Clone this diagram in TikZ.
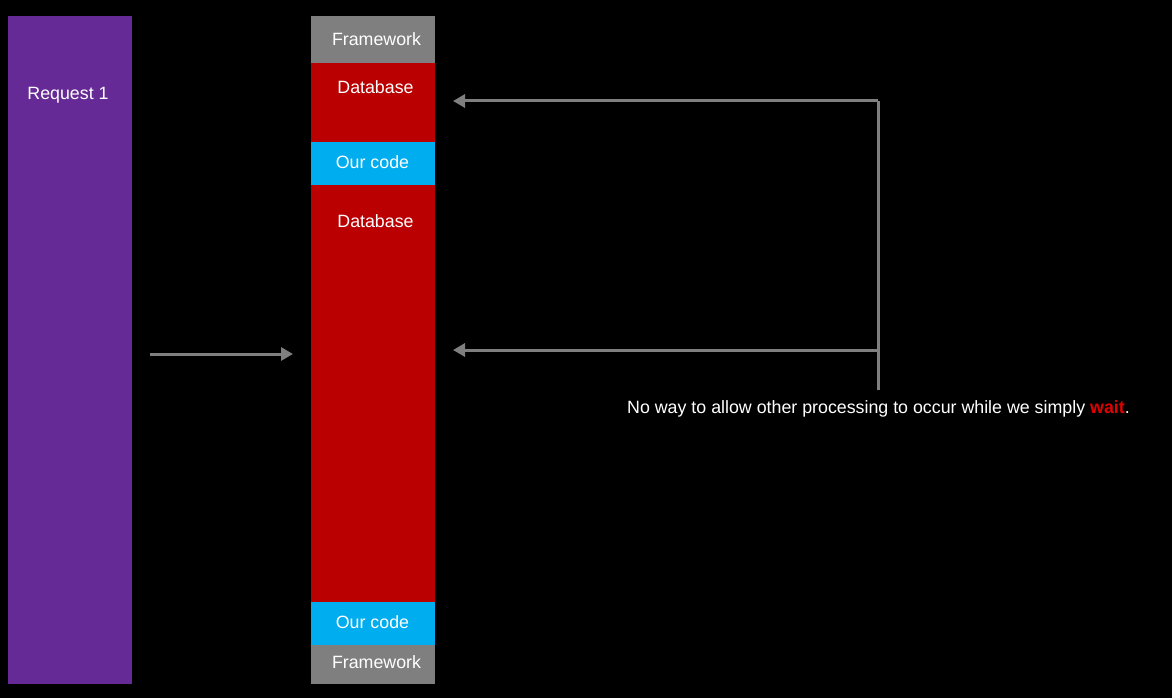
\documentclass[tikz,border=0pt]{standalone}
\usepackage{fontspec}
\setmainfont{Liberation Sans}
\usetikzlibrary{arrows.meta}
\definecolor{reqpurple}{HTML}{662A96}
\definecolor{dbred}{HTML}{BA0000}
\definecolor{codeblue}{HTML}{00ADEF}
\definecolor{fwgray}{HTML}{7F7F7F}
\definecolor{arrgray}{HTML}{7F7F7F}
\definecolor{waitred}{HTML}{E00000}
\tikzset{
  lbl/.style={text=white, font=\fontsize{17.8}{21}\selectfont, inner sep=0pt},
  conn/.style={draw=arrgray, line width=3pt},
  tip/.style={-{Triangle[length=12pt,width=13pt]}}
}
\begin{document}
\begin{tikzpicture}[x=1pt,y=-1pt]
\fill[black] (0,0) rectangle (1172,698);
\useasboundingbox (0,0) rectangle (1172,698);
% request column
\fill[reqpurple] (8,16) rectangle (132,684);
\node[lbl] (req) at (68,95) {Request 1};
% stack
\fill[fwgray] (311,16) rectangle (435,63);
\fill[dbred] (311,63) rectangle (435,142);
\fill[codeblue] (311,142) rectangle (435,185);
\fill[dbred] (311,185) rectangle (435,602);
\fill[codeblue] (311,602) rectangle (435,645);
\fill[fwgray] (311,645) rectangle (435,684);
\node[lbl] (fw1) at (376.5,39) {Framework};
\node[lbl] (db1) at (375.5,87) {Database};
\node[lbl] (oc1) at (372.5,162.5) {Our code};
\node[lbl] (db2) at (375.5,221.5) {Database};
\node[lbl] (oc2) at (372.5,622.5) {Our code};
\node[lbl] (fw2) at (376.5,662.5) {Framework};
% arrows
\coordinate (a1s) at (150,354);
\coordinate (a1e) at (293,354);
\draw[conn,tip] (a1s) -- (a1e);
\coordinate (top) at (878,101);
\coordinate (mid) at (878,350);
\coordinate (bot) at (878,390);
\coordinate (t1) at (453,101);
\coordinate (t2) at (453,350);
\draw[conn] (bot) -- (top);
\draw[conn,tip] (top) -- (t1);
\draw[conn,tip] (mid) -- (t2);
\node[lbl, anchor=west] (note) at (627,408.5) {No way to allow other processing to occur while we simply \textcolor{waitred}{\textbf{wait}}.};
\end{tikzpicture}
\end{document}
